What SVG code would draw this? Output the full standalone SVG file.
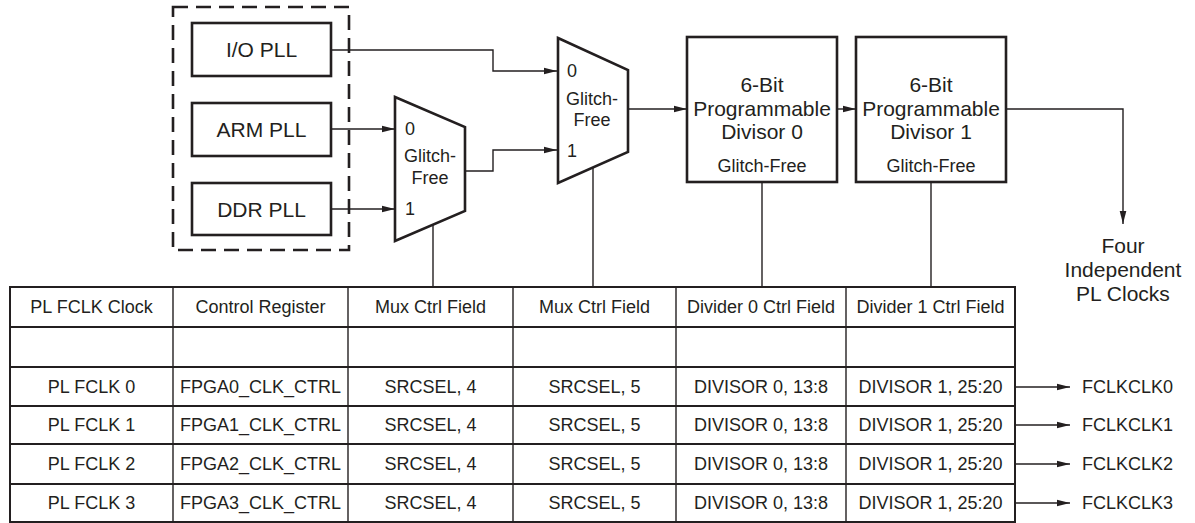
<svg xmlns="http://www.w3.org/2000/svg" width="1195" height="523" viewBox="0 0 1195 523">
<style>
text{font-family:"Liberation Sans",Arial,sans-serif;fill:#231f20}
.big{font-size:21px}
.mid{font-size:18px}
.tbl{font-size:18px}
.box{fill:#fff;stroke:#231f20;stroke-width:2.6}
.wire{fill:none;stroke:#231f20;stroke-width:1.4}
.h{stroke:#231f20;stroke-width:2}
.v{stroke:#231f20;stroke-width:1.4}
</style>
<defs>
<marker id="arr" viewBox="0 0 13 8" refX="13" refY="4" markerWidth="13" markerHeight="8" markerUnits="userSpaceOnUse" orient="auto">
<path d="M0,0.7 L13,4 L0,7.3 Z" fill="#231f20"/>
</marker>
</defs>
<rect width="1195" height="523" fill="#fff"/>

<g id="pll-group">
<rect x="173" y="7" width="176" height="243" fill="none" stroke="#231f20" stroke-width="2.6" stroke-dasharray="15 8"/>
</g>
<g id="io-pll"><rect class="box" x="192" y="23" width="139" height="53"/><text class="big" x="261.5" y="57" text-anchor="middle">I/O PLL</text></g>
<g id="arm-pll"><rect class="box" x="192" y="103" width="139" height="53"/><text class="big" x="261.5" y="137" text-anchor="middle">ARM PLL</text></g>
<g id="ddr-pll"><rect class="box" x="192" y="183" width="139" height="52"/><text class="big" x="261.5" y="217" text-anchor="middle">DDR PLL</text></g>

<g id="mux1">
<polygon class="box" points="395,97 465,127 465,211 395,241"/>
<text class="tbl" x="405" y="135">0</text>
<text class="tbl" x="405" y="215">1</text>
<text class="mid" x="430" y="162" text-anchor="middle">Glitch-</text>
<text class="mid" x="430" y="184" text-anchor="middle">Free</text>
</g>
<g id="mux2">
<polygon class="box" points="558,38 628,70 628,152 558,183"/>
<text class="tbl" x="567" y="77">0</text>
<text class="tbl" x="567" y="157">1</text>
<text class="mid" x="592" y="105" text-anchor="middle">Glitch-</text>
<text class="mid" x="592" y="126" text-anchor="middle">Free</text>
</g>
<g id="div0">
<rect class="box" x="687" y="37" width="150" height="145"/>
<text class="big" x="762" y="92" text-anchor="middle">6-Bit</text>
<text class="big" x="762" y="116" text-anchor="middle">Programmable</text>
<text class="big" x="762" y="139" text-anchor="middle">Divisor 0</text>
<text class="mid" x="762" y="172" text-anchor="middle" font-size="18.5">Glitch-Free</text>
</g>
<g id="div1">
<rect class="box" x="856" y="37" width="150" height="145"/>
<text class="big" x="931" y="92" text-anchor="middle">6-Bit</text>
<text class="big" x="931" y="116" text-anchor="middle">Programmable</text>
<text class="big" x="931" y="139" text-anchor="middle">Divisor 1</text>
<text class="mid" x="931" y="172" text-anchor="middle">Glitch-Free</text>
</g>
<g id="out-label">
<text class="big" x="1123" y="253" text-anchor="middle">Four</text>
<text class="big" x="1123" y="277" text-anchor="middle">Independent</text>
<text class="big" x="1123" y="301" text-anchor="middle">PL Clocks</text>
</g>

<g id="connectors">
<polyline class="wire" points="331,50 493,50 493,71 557,71" marker-end="url(#arr)"/>
<polyline class="wire" points="465,171 493,171 493,150 557,150" marker-end="url(#arr)"/>
<line class="wire" x1="331" y1="129" x2="395" y2="129" marker-end="url(#arr)"/>
<line class="wire" x1="331" y1="209" x2="395" y2="209" marker-end="url(#arr)"/>
<line class="wire" x1="628" y1="109" x2="687" y2="109" marker-end="url(#arr)"/>
<line class="wire" x1="837" y1="109" x2="856" y2="109" marker-end="url(#arr)"/>
<polyline class="wire" points="1006,109 1123,109 1123,224" marker-end="url(#arr)"/>
<line class="wire" x1="433" y1="225" x2="433" y2="287"/>
<line class="wire" x1="593" y1="168" x2="593" y2="287"/>
<line class="wire" x1="762" y1="182" x2="762" y2="287"/>
<line class="wire" x1="931" y1="182" x2="931" y2="287"/>
<line class="wire" x1="1015" y1="387" x2="1070" y2="387" marker-end="url(#arr)"/>
<line class="wire" x1="1015" y1="425" x2="1070" y2="425" marker-end="url(#arr)"/>
<line class="wire" x1="1015" y1="464" x2="1070" y2="464" marker-end="url(#arr)"/>
<line class="wire" x1="1015" y1="503" x2="1070" y2="503" marker-end="url(#arr)"/>
</g>

<g id="table">
<rect x="10" y="287" width="1005" height="235" fill="none" stroke="#231f20" stroke-width="2"/>
<line class="h" x1="10" y1="327" x2="1015" y2="327"/>
<line class="h" x1="10" y1="367" x2="1015" y2="367"/>
<line class="h" x1="10" y1="406" x2="1015" y2="406"/>
<line class="h" x1="10" y1="444" x2="1015" y2="444"/>
<line class="h" x1="10" y1="484" x2="1015" y2="484"/>
<line class="v" x1="173" y1="287" x2="173" y2="522"/>
<line class="v" x1="348" y1="287" x2="348" y2="522"/>
<line class="v" x1="513" y1="287" x2="513" y2="522"/>
<line class="v" x1="676" y1="287" x2="676" y2="522"/>
<line class="v" x1="846" y1="287" x2="846" y2="522"/>
<g text-anchor="middle">
<text class="tbl" x="91.5" y="313">PL FCLK Clock</text>
<text class="tbl" x="260.5" y="313">Control Register</text>
<text class="tbl" x="430.5" y="313">Mux Ctrl Field</text>
<text class="tbl" x="594.5" y="313">Mux Ctrl Field</text>
<text class="tbl" x="761" y="313">Divider 0 Ctrl Field</text>
<text class="tbl" x="930.5" y="313">Divider 1 Ctrl Field</text>

<text class="tbl" x="91.5" y="393">PL FCLK 0</text>
<text class="tbl" x="260.5" y="393">FPGA0_CLK_CTRL</text>
<text class="tbl" x="430.5" y="393">SRCSEL, 4</text>
<text class="tbl" x="594.5" y="393">SRCSEL, 5</text>
<text class="tbl" x="761" y="393">DIVISOR 0, 13:8</text>
<text class="tbl" x="930.5" y="393">DIVISOR 1, 25:20</text>

<text class="tbl" x="91.5" y="431">PL FCLK 1</text>
<text class="tbl" x="260.5" y="431">FPGA1_CLK_CTRL</text>
<text class="tbl" x="430.5" y="431">SRCSEL, 4</text>
<text class="tbl" x="594.5" y="431">SRCSEL, 5</text>
<text class="tbl" x="761" y="431">DIVISOR 0, 13:8</text>
<text class="tbl" x="930.5" y="431">DIVISOR 1, 25:20</text>

<text class="tbl" x="91.5" y="470">PL FCLK 2</text>
<text class="tbl" x="260.5" y="470">FPGA2_CLK_CTRL</text>
<text class="tbl" x="430.5" y="470">SRCSEL, 4</text>
<text class="tbl" x="594.5" y="470">SRCSEL, 5</text>
<text class="tbl" x="761" y="470">DIVISOR 0, 13:8</text>
<text class="tbl" x="930.5" y="470">DIVISOR 1, 25:20</text>

<text class="tbl" x="91.5" y="509">PL FCLK 3</text>
<text class="tbl" x="260.5" y="509">FPGA3_CLK_CTRL</text>
<text class="tbl" x="430.5" y="509">SRCSEL, 4</text>
<text class="tbl" x="594.5" y="509">SRCSEL, 5</text>
<text class="tbl" x="761" y="509">DIVISOR 0, 13:8</text>
<text class="tbl" x="930.5" y="509">DIVISOR 1, 25:20</text>
</g>
</g>

<g id="fclk-labels">
<text class="mid" x="1082" y="393">FCLKCLK0</text>
<text class="mid" x="1082" y="431">FCLKCLK1</text>
<text class="mid" x="1082" y="470">FCLKCLK2</text>
<text class="mid" x="1082" y="509">FCLKCLK3</text>
</g>
</svg>
